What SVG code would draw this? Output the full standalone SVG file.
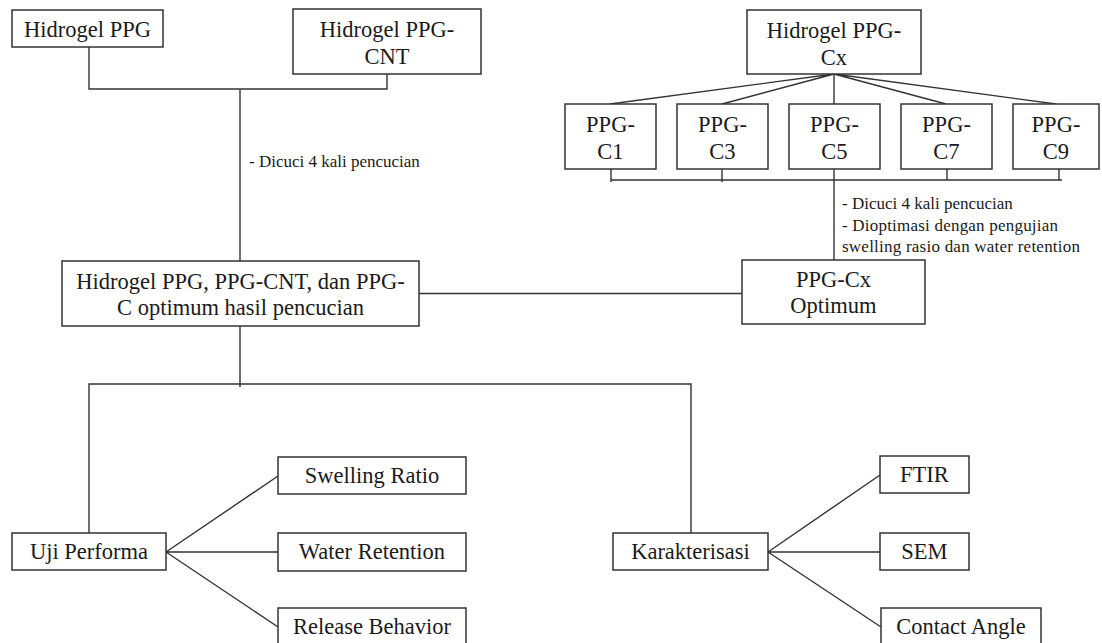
<svg xmlns="http://www.w3.org/2000/svg" width="1102" height="643" viewBox="0 0 1102 643">
<style>
.box{fill:#fff;stroke:#333;stroke-width:1.5}
.ln{fill:none;stroke:#333;stroke-width:1.4}
.t{font-family:"Liberation Serif","Times New Roman",serif;font-size:22.5px;fill:#1a1a1a;text-anchor:middle}
.a{font-family:"Liberation Serif","Times New Roman",serif;font-size:17px;fill:#1a1a1a}
</style>
<rect width="1102" height="643" fill="#fff"/>
<g id="connectors">
<path class="ln" d="M89 47V89H387V74M240 89V261"/>
<path class="ln" d="M834 74L610 104M834 74L722 104M834 74V104M834 74L946 104M834 74L1056 104"/>
<path class="ln" d="M611 169V182M722 169V182M947 169V180M1059 169V180M611 180H1062M834 169V260"/>
<path class="ln" d="M419 293.5H742"/>
<path class="ln" d="M240 326V387M89 533V384H691V533"/>
<path class="ln" d="M166 552L278 476M166 552H278M166 552L278 627"/>
<path class="ln" d="M768 552L880 475M768 552H880M768 552L881 627"/>
<text class="a" x="249" y="167">- Dicuci 4 kali pencucian</text>
<text class="a" x="842" y="209">- Dicuci 4 kali pencucian</text>
<text class="a" x="842" y="231" textLength="216" lengthAdjust="spacing">- Dioptimasi dengan pengujian</text>
<text class="a" x="842" y="252" textLength="238" lengthAdjust="spacing">swelling rasio dan water retention</text>
</g>
<g id="n-ppg"><rect class="box" x="12" y="10" width="151" height="37"/><text class="t" x="87.5" y="37">Hidrogel PPG</text></g>
<g id="n-cnt"><rect class="box" x="293" y="9" width="188" height="65"/><text class="t" x="387" y="37">Hidrogel PPG-</text><text class="t" x="387" y="64">CNT</text></g>
<g id="n-cx"><rect class="box" x="747" y="10" width="174" height="64"/><text class="t" x="834" y="38">Hidrogel PPG-</text><text class="t" x="834" y="65">Cx</text></g>
<g id="n-c1"><rect class="box" x="565" y="104" width="91" height="65"/><text class="t" x="610.5" y="132">PPG-</text><text class="t" x="610.5" y="159">C1</text></g>
<g id="n-c3"><rect class="box" x="677" y="104" width="91" height="65"/><text class="t" x="722.5" y="132">PPG-</text><text class="t" x="722.5" y="159">C3</text></g>
<g id="n-c5"><rect class="box" x="789" y="104" width="91" height="65"/><text class="t" x="834.5" y="132">PPG-</text><text class="t" x="834.5" y="159">C5</text></g>
<g id="n-c7"><rect class="box" x="901" y="104" width="91" height="65"/><text class="t" x="946.5" y="132">PPG-</text><text class="t" x="946.5" y="159">C7</text></g>
<g id="n-c9"><rect class="box" x="1013" y="104" width="86" height="65"/><text class="t" x="1056" y="132">PPG-</text><text class="t" x="1056" y="159">C9</text></g>
<g id="n-main"><rect class="box" x="62" y="261" width="357" height="65"/><text class="t" x="240.5" y="289">Hidrogel PPG, PPG-CNT, dan PPG-</text><text class="t" x="240.5" y="315">C optimum hasil pencucian</text></g>
<g id="n-opt"><rect class="box" x="742" y="260" width="183" height="64"/><text class="t" x="833.5" y="287">PPG-Cx</text><text class="t" x="833.5" y="313">Optimum</text></g>
<g id="n-uji"><rect class="box" x="12" y="533" width="154" height="37"/><text class="t" x="89" y="559">Uji Performa</text></g>
<g id="n-sr"><rect class="box" x="278" y="457" width="188" height="37"/><text class="t" x="372" y="483">Swelling Ratio</text></g>
<g id="n-wr"><rect class="box" x="278" y="533" width="188" height="38"/><text class="t" x="372" y="559">Water Retention</text></g>
<g id="n-rb"><rect class="box" x="278" y="608" width="188" height="38"/><text class="t" x="372" y="634">Release Behavior</text></g>
<g id="n-kar"><rect class="box" x="613" y="533" width="155" height="37"/><text class="t" x="690.5" y="559">Karakterisasi</text></g>
<g id="n-ftir"><rect class="box" x="880" y="456" width="89" height="37"/><text class="t" x="924.5" y="482">FTIR</text></g>
<g id="n-sem"><rect class="box" x="880" y="533" width="89" height="37"/><text class="t" x="924.5" y="559">SEM</text></g>
<g id="n-ca"><rect class="box" x="881" y="608" width="160" height="38"/><text class="t" x="961" y="634">Contact Angle</text></g>
</svg>
